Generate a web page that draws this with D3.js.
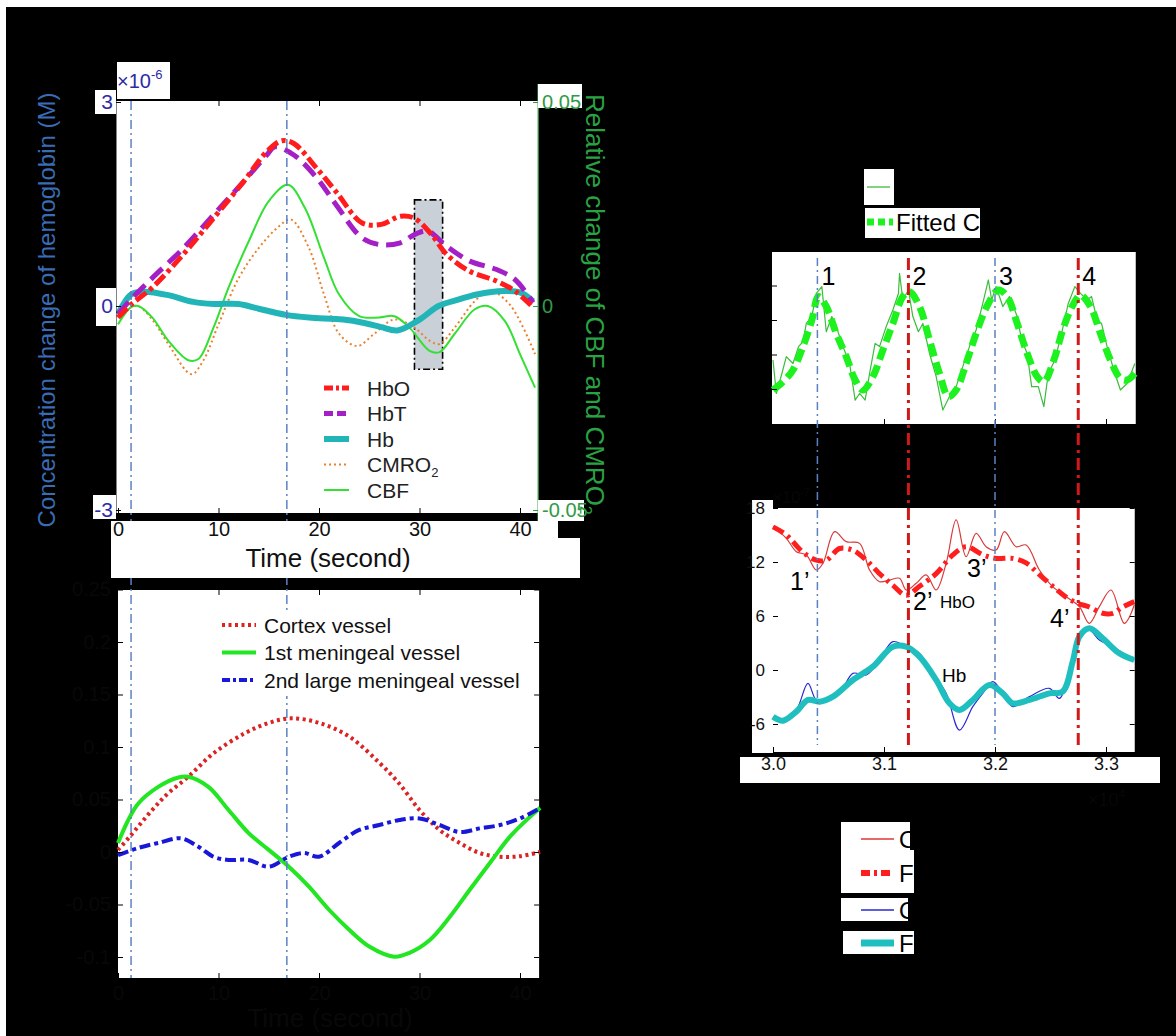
<!DOCTYPE html>
<html>
<head>
<meta charset="utf-8">
<script src="https://cdn.jsdelivr.net/npm/d3@7"></script>
<style>
  html, body { margin: 0; padding: 0; background: #000; }
  svg { display: block; }
</style>
</head>
<body>
<svg id="fig" width="1176" height="1036"></svg>
<script>
// ---------- Panel A: hemodynamic response (time in s) ----------
// hemoglobin, units of 1e-6 M
const hbo = [[0,-0.17],[1.3,0.02],[3.4,0.27],[6.5,0.76],[9.5,1.29],[12.5,1.83],[14.8,2.27],[16.3,2.43],[17.5,2.39],[19.8,2.02],[21.7,1.68],[24.3,1.22],[26.2,1.2],[28.1,1.32],[29.5,1.29],[31.2,1.05],[32.7,0.76],[35,0.51],[37.6,0.37],[39.5,0.22],[41.3,-0.02]];
const hbt = [[0,-0.12],[1.3,0.1],[3.4,0.41],[6.5,0.85],[9.5,1.34],[12.5,1.83],[14.8,2.22],[15.6,2.34],[17.5,2.22],[19.8,1.88],[21.7,1.49],[24.3,1.0],[26.2,0.9],[28.1,0.93],[29.5,1.05],[30.8,1.1],[32.7,0.88],[35,0.66],[37.6,0.54],[39.5,0.39],[41.3,0.05]];
const hb = [[0,-0.12],[1.3,0.17],[2.5,0.21],[5,0.16],[7.5,0.06],[9.5,0.03],[12,0.03],[14,-0.04],[16.7,-0.13],[19,-0.17],[22.4,-0.2],[24.5,-0.25],[26.2,-0.31],[27.8,-0.36],[30,-0.2],[31.9,0],[34,0.1],[35.7,0.17],[38.4,0.22],[40,0.2],[41.3,0.07]];
// relative change (fraction)
const cmro2 = [[0,-0.0028],[1.3,-0.0003],[2,0],[3.4,-0.0033],[5,-0.0093],[7.3,-0.0167],[8.5,-0.0133],[10,-0.0045],[12,0.0068],[14,0.0142],[16,0.0195],[17.2,0.0212],[19,0.0142],[20.5,0.0028],[22,-0.0068],[23.8,-0.0098],[25.5,-0.0068],[27.5,-0.0033],[29.5,-0.0053],[31,-0.0085],[32,-0.0093],[33.5,-0.0053],[35.5,0.0012],[37,0.0037],[39,0.0003],[41.5,-0.0118]];
const cbf = [[0,-0.0045],[1.3,-0.0003],[2,0],[3.4,-0.0028],[5,-0.0085],[7,-0.0133],[8,-0.013],[9.5,-0.0053],[11,0.0045],[13,0.0158],[15,0.0257],[16.9,0.0297],[18.6,0.024],[20.5,0.0118],[22,0.0028],[24,-0.0025],[26,-0.0028],[27.5,-0.0025],[29,-0.0053],[31,-0.011],[32,-0.0113],[33.5,-0.0068],[35.5,-0.0008],[36.8,0],[38.5,-0.0037],[40,-0.0118],[41.5,-0.02]];
const highlightSpan = [29.5, 32.3];
const highlightRange = [-0.93, 1.56];
const eventTimes = [1.3, 16.8];
const timeTicks = [0, 10, 20, 30, 40];
const hbTicks = [-3, 0, 3];
const relTicks = [-0.05, 0, 0.05];

// ---------- Panel B: vessel flow change ----------
const cortex = [[0,0.002],[1.2,0.015],[3.4,0.04],[5,0.056],[7,0.0717],[9.5,0.094],[12.6,0.113],[14.9,0.1226],[17.2,0.1273],[20,0.123],[23,0.11],[26,0.085],[28,0.065],[30,0.04],[32,0.021],[34,0.0086],[36,-0.001],[38,-0.0045],[40,-0.004],[42,0]];
const meningeal1 = [[0,0.0086],[1,0.03],[2,0.046],[4,0.062],[6,0.071],[7,0.0717],[9,0.062],[11,0.04],[13,0.018],[15,0.002],[17,-0.014],[19,-0.033],[21,-0.055],[23,-0.074],[25,-0.09],[27.5,-0.0997],[29,-0.096],[31,-0.084],[33,-0.062],[35,-0.036],[37,-0.0105],[39,0.0146],[41,0.0336],[42,0.042]];
const meningeal2 = [[0,-0.003],[2,0.0038],[4,0.0086],[6.3,0.013],[8,0.005],[9.5,-0.0045],[11,-0.0076],[13,-0.0076],[15,-0.014],[17,-0.0045],[18.5,-0.001],[20,-0.0045],[22,0.0086],[24,0.021],[26,0.0257],[28,0.0305],[30,0.032],[32,0.0257],[34,0.019],[36,0.0225],[38,0.0257],[40,0.032],[42,0.042]];
const flowTicks = [-0.1, -0.05, 0, 0.05, 0.1, 0.15, 0.2, 0.25];

// ---------- Panel C: CBF oscillation (sample index, x1e4) ----------
const cbfOriginal = [[3.000,0.84],[3.003,-0.13],[3.008,0.45],[3.012,0.94],[3.018,0.74],[3.023,1.23],[3.027,1.37],[3.030,1.90],[3.035,2.10],[3.039,2.77],[3.044,2.97],[3.048,1.66],[3.053,2.10],[3.057,1.81],[3.063,1.23],[3.069,0.74],[3.074,-0.32],[3.078,-0.13],[3.083,-0.32],[3.087,0.45],[3.092,1.32],[3.096,1.23],[3.102,1.81],[3.108,2.29],[3.113,2.77],[3.114,3.35],[3.117,2.58],[3.122,2.87],[3.126,2.10],[3.131,1.66],[3.135,1.90],[3.141,1.03],[3.147,0.36],[3.153,-0.61],[3.159,-0.22],[3.165,0.07],[3.171,0.65],[3.177,1.23],[3.183,1.71],[3.189,2.48],[3.194,3.16],[3.197,2.58],[3.201,2.97],[3.207,2.39],[3.213,2.68],[3.220,2.10],[3.224,1.42],[3.229,1.03],[3.233,0.07],[3.239,0.07],[3.244,-0.51],[3.248,0.45],[3.254,0.84],[3.260,1.61],[3.266,2.48],[3.272,2.97],[3.277,2.77],[3.283,2.58],[3.287,2.68],[3.292,2.00],[3.296,1.90],[3.301,1.23],[3.307,0.55],[3.313,-0.03],[3.319,0.16],[3.326,0.74]];
const cbfFitted = [[3.000,-0.03],[3.009,0.21],[3.018,0.55],[3.027,1.23],[3.035,2.0],[3.041,2.68],[3.048,2.39],[3.057,1.61],[3.066,0.94],[3.074,0.26],[3.081,-0.03],[3.090,0.36],[3.099,1.13],[3.108,1.90],[3.117,2.68],[3.123,2.82],[3.132,2.39],[3.141,1.42],[3.150,0.45],[3.158,-0.22],[3.165,-0.03],[3.174,0.74],[3.183,1.61],[3.194,2.48],[3.203,2.87],[3.211,2.68],[3.220,1.90],[3.229,1.03],[3.238,0.36],[3.244,0.21],[3.253,0.84],[3.262,1.81],[3.271,2.48],[3.277,2.72],[3.286,2.39],[3.295,1.61],[3.304,0.84],[3.313,0.31],[3.319,0.26],[3.326,0.45]];
const cbfTicks = [0, 1, 2, 3];
const peakMarks = [3.04, 3.122, 3.2, 3.275];
const peakKinds = ["peak", "trough", "peak", "trough"];
const peakLabels = ["1", "2", "3", "4"];

// ---------- Panel D: hemoglobin oscillation (x1e-7 M) ----------
const hboOriginal = [[3.000,15.93],[3.012,14.63],[3.021,13.15],[3.030,12.78],[3.039,11.11],[3.045,11.85],[3.0555,15.37],[3.066,14.26],[3.078,14.07],[3.087,11.11],[3.096,9.81],[3.105,10.0],[3.114,10.19],[3.120,8.89],[3.129,9.63],[3.138,10.56],[3.147,8.89],[3.156,11.85],[3.165,16.67],[3.174,12.59],[3.183,15.19],[3.192,13.7],[3.201,13.33],[3.2085,15.37],[3.219,13.7],[3.228,13.89],[3.240,11.11],[3.252,9.26],[3.264,8.15],[3.276,7.04],[3.285,5.19],[3.294,7.04],[3.3045,8.89],[3.3165,5.19],[3.3255,7.22]];
const hboFitted = [[3.000,15.9],[3.012,15.0],[3.027,13.1],[3.039,12.2],[3.048,12.2],[3.060,13.5],[3.072,13.3],[3.084,12.2],[3.096,10.7],[3.108,9.4],[3.120,8.3],[3.132,9.3],[3.147,10.7],[3.162,12.8],[3.174,13.7],[3.189,12.8],[3.201,12.4],[3.216,12.4],[3.228,11.9],[3.240,10.6],[3.252,9.3],[3.264,8.1],[3.2745,7.4],[3.285,7.0],[3.297,6.3],[3.306,6.3],[3.315,7.0],[3.3255,7.6]];
const hbOriginal = [[3.000,-5.19],[3.009,-5.56],[3.021,-4.44],[3.0315,-1.48],[3.039,-3.33],[3.048,-3.33],[3.060,-2.59],[3.072,-0.37],[3.084,-0.56],[3.096,1.11],[3.108,3.15],[3.120,2.59],[3.132,1.85],[3.144,-0.37],[3.156,-2.59],[3.168,-6.67],[3.180,-4.07],[3.189,-2.59],[3.198,-1.3],[3.207,-2.59],[3.216,-4.07],[3.231,-2.96],[3.249,-2.04],[3.258,-3.15],[3.267,-0.37],[3.276,4.07],[3.285,4.44],[3.294,3.33],[3.306,2.59],[3.3255,1.11]];
const hbFitted = [[3.000,-5.19],[3.009,-5.63],[3.021,-4.63],[3.0315,-3.33],[3.042,-3.52],[3.054,-2.96],[3.072,-1.11],[3.090,0.37],[3.108,2.59],[3.120,2.59],[3.132,1.48],[3.147,-1.11],[3.159,-3.7],[3.168,-4.44],[3.180,-3.33],[3.195,-1.67],[3.207,-2.59],[3.216,-3.7],[3.231,-3.33],[3.249,-2.59],[3.261,-2.41],[3.270,0.93],[3.276,3.7],[3.285,4.63],[3.297,3.52],[3.312,1.85],[3.3255,1.11]];
const sampleTicks = [3.0, 3.1, 3.2, 3.3];
const hemoTicks = [-6, 0, 6, 12, 18];

// ---------- drawing ----------
const FONT = '"Liberation Sans", Arial, Helvetica, sans-serif';
const W = 1176, H = 1036;
const svg = d3.select("#fig").attr("font-family", FONT);
const FAINT = "#080808";

svg.append("rect").attr("width", W).attr("height", H).attr("fill", "#000");
svg.append("rect").attr("width", W).attr("height", 7).attr("fill", "#fff");
svg.append("rect").attr("width", 6).attr("height", H).attr("fill", "#fff");

function box(x, y, w, h) {
  return svg.append("rect").attr("x", x).attr("y", y).attr("width", w).attr("height", h).attr("fill", "#fff");
}
function label(x, y, str, size, color, anchor) {
  return svg.append("text").attr("x", x).attr("y", y).attr("font-size", size)
    .attr("fill", color || "#000").attr("text-anchor", anchor || "start").text(str);
}
function styleAxis(g, size, color) {
  g.attr("font-family", FONT).attr("font-size", size);
  g.select(".domain").remove();
  g.selectAll(".tick line").attr("stroke", "#000").attr("stroke-width", 1);
  g.selectAll(".tick text").attr("fill", color);
  return g;
}
function curve(data, sx, sy, smooth) {
  return d3.line().x(d => sx(d[0])).y(d => sy(d[1]))
    .curve(smooth ? d3.curveCatmullRom.alpha(0.5) : d3.curveLinear)(data);
}
function path(d, stroke, width, dash) {
  const p = svg.append("path").attr("d", d).attr("fill", "none").attr("stroke", stroke)
    .attr("stroke-width", width).attr("stroke-linejoin", "round");
  if (dash) p.attr("stroke-dasharray", dash);
  return p;
}

// scales shared by panels A and B
const tx = d3.scaleLinear([0, 40], [118, 520]);
const yHb = d3.scaleLinear([-3, 3], [510, 102]);
const yRel = d3.scaleLinear([-0.05, 0.05], [510, 102]);
const yFlow = d3.scaleLinear([-0.1, 0.25], [957, 589.5]);
const aL = tx(-0.2), aR = tx(41.8), aT = 101, aB = 513;
const bL = tx(0), bR = tx(41.9), bT = 590, bB = 978;

// scales shared by panels C and D
const xs = d3.scaleLinear([3.0, 3.3], [773, 1106]);
const yC = d3.scaleLinear([0, 3], [389, 285.5]);
const yD = d3.scaleLinear([-6, 18], [724, 508]);
const cL = xs(2.9991), cR = xs(3.3268), cT = 252, cB = 424;
const dL = xs(3.0), dR = xs(3.3259), dT = 508, dB = 752;

// ===== Panel A =====
box(aL, aT, aR - aL, aB - aT);
svg.append("rect")
  .attr("x", tx(highlightSpan[0])).attr("y", yHb(highlightRange[1]))
  .attr("width", tx(highlightSpan[1]) - tx(highlightSpan[0]))
  .attr("height", yHb(highlightRange[0]) - yHb(highlightRange[1]))
  .attr("fill", "#c9d0d8").attr("stroke", "#000").attr("stroke-width", 1.6)
  .attr("stroke-dasharray", "7,3,2,3");

path(curve(cmro2, tx, yRel, true), "#e8822e", 2, "2,3");
path(curve(cbf, tx, yRel, true), "#33e033", 2);
path(curve(hb, tx, yHb, true), "#22b5b8", 6);
path(curve(hbt, tx, yHb, true), "#a51fc6", 5, "16,8");
path(curve(hbo, tx, yHb, true), "#ff1c1c", 5, "13,4,4,4");

// plot frame
svg.append("line").attr("x1", aL).attr("x2", aL).attr("y1", aT).attr("y2", aB).attr("stroke", "#000");
svg.append("line").attr("x1", aR).attr("x2", aR).attr("y1", 84).attr("y2", 521).attr("stroke", "#4cae5a").attr("stroke-width", 1.2);
styleAxis(svg.append("g").attr("transform", `translate(0,${aT})`)
  .call(d3.axisTop(tx).tickValues(timeTicks.slice(1)).tickSizeInner(-5).tickSizeOuter(0).tickFormat("")), 12, "#000");

// legend A
const legA = [
  {name: "HbO", color: "#ff1c1c", w: 5, dash: "9,3,3,3"},
  {name: "HbT", color: "#a51fc6", w: 5, dash: "9,4"},
  {name: "Hb", color: "#22b5b8", w: 6, dash: null},
  {name: "CMRO", sub: "2", color: "#e8822e", w: 2, dash: "2,3"},
  {name: "CBF", color: "#33e033", w: 2, dash: null}
];
const legAy = d3.scalePoint(legA.map(d => d.name), [388, 490]);
legA.forEach(d => {
  const y = legAy(d.name);
  const l = svg.append("line").attr("x1", 324).attr("x2", 349).attr("y1", y).attr("y2", y)
    .attr("stroke", d.color).attr("stroke-width", d.w);
  if (d.dash) l.attr("stroke-dasharray", d.dash);
  const t = label(367, y, d.name, 21, "#222").attr("dy", "0.36em");
  if (d.sub) t.append("tspan").attr("font-size", 13).attr("dy", "0.35em").text(d.sub);
});

// ===== Panel B =====
box(bL, bT, bR - bL, bB - bT);
path(curve(cortex, tx, yFlow, true), "#dd2222", 4, "3,3.5");
path(curve(meningeal1, tx, yFlow, true), "#22e622", 4);
path(curve(meningeal2, tx, yFlow, true), "#1818d8", 4, "11,4,4,4");

styleAxis(svg.append("g").attr("transform", `translate(${bL},0)`)
  .call(d3.axisLeft(yFlow).tickValues(flowTicks).tickSizeInner(-5).tickSizeOuter(0).tickPadding(7)
  .tickFormat(d => String(d))), 20, FAINT);
styleAxis(svg.append("g").attr("transform", `translate(${bR},0)`)
  .call(d3.axisRight(yFlow).tickValues(flowTicks).tickSizeInner(-5).tickSizeOuter(0).tickFormat("")), 12, "#000");
styleAxis(svg.append("g").attr("transform", `translate(0,${bT})`)
  .call(d3.axisTop(tx).tickValues(timeTicks.slice(1)).tickSizeInner(-5).tickSizeOuter(0).tickFormat("")), 12, "#000");
styleAxis(svg.append("g").attr("transform", `translate(0,${bB})`)
  .call(d3.axisBottom(tx).tickValues(timeTicks).tickSizeInner(-5).tickSizeOuter(0).tickPadding(8)), 20, FAINT);
label(330, 1027, "Time (second)", 26, FAINT, "middle");

// event markers across A and B
eventTimes.forEach(t => {
  svg.append("line").attr("x1", tx(t)).attr("x2", tx(t)).attr("y1", aT).attr("y2", bB)
    .attr("stroke", "#5b82c4").attr("stroke-width", 1.5).attr("stroke-dasharray", "9,4,2,4");
});

// legend B (on a white pad)
box(215, 610, 312, 86);
const legB = [
  {name: "Cortex vessel", color: "#dd2222", w: 4, dash: "3,3.5"},
  {name: "1st meningeal vessel", color: "#22e622", w: 4, dash: null},
  {name: "2nd large meningeal vessel", color: "#1818d8", w: 4, dash: "8,3,3,3"}
];
const legBy = d3.scalePoint(legB.map(d => d.name), [625, 680]);
legB.forEach(d => {
  const y = legBy(d.name);
  const l = svg.append("line").attr("x1", 222).attr("x2", 256).attr("y1", y).attr("y2", y)
    .attr("stroke", d.color).attr("stroke-width", d.w);
  if (d.dash) l.attr("stroke-dasharray", d.dash);
  label(264, y, d.name, 21, "#111").attr("dy", "0.36em");
});

// ===== Panel A labels (white pads) =====
box(117, 62, 53, 37);
const mult = label(117, 88, "\u00d710", 20, "#2b2ba5");
mult.append("tspan").attr("font-size", 13).attr("dy", -9).text("-6");
box(95, 90, 21, 24);
box(96, 288, 20, 38);
box(93, 495, 23, 24);
box(538, 84, 44, 24);
box(538, 500, 46, 21);
svg.append("path").attr("fill", "#fff")
  .attr("d", "M111,521 H558 V538 H580 V578 H111 Z");

styleAxis(svg.append("g").attr("transform", `translate(${aL},0)`)
  .call(d3.axisLeft(yHb).tickValues(hbTicks).tickSizeInner(-5).tickSizeOuter(0).tickPadding(3)
  .tickFormat(d => String(d))), 21, "#2b2ba5");
const rAx = styleAxis(svg.append("g").attr("transform", `translate(${aR},0)`)
  .call(d3.axisRight(yRel).tickValues(relTicks).tickSizeInner(-5).tickSizeOuter(0).tickPadding(4)
  .tickFormat(d => d === 0 ? "0" : d.toFixed(2))), 20, "#2f9a44");
rAx.selectAll(".tick line").attr("stroke", "#2f9a44");
styleAxis(svg.append("g").attr("transform", `translate(0,${aB})`)
  .call(d3.axisBottom(tx).tickValues(timeTicks).tickSizeInner(-5).tickSizeOuter(0).tickPadding(9)), 20, "#111");
label(328, 567, "Time (second)", 26, "#111", "middle");

svg.append("text").attr("transform", "translate(47,310) rotate(-90)")
  .attr("text-anchor", "middle").attr("dy", "0.35em").attr("font-size", 24).attr("fill", "#3a6cb4")
  .text("Concentration change of hemoglobin (M)");
const rt = svg.append("text").attr("transform", "translate(595,94) rotate(90)")
  .attr("dy", "0.35em").attr("font-size", 26).attr("fill", "#2aa244")
  .text("Relative change of CBF and CMRO");
rt.append("tspan").attr("font-size", 16).attr("dy", "0.4em").text("2");

// ===== Panel C =====
box(cL, cT, cR - cL, cB - cT);
path(curve(cbfOriginal, xs, yC, false), "#3cbc3c", 1.2);
path(curve(cbfFitted, xs, yC, true), "#1ef21e", 7, "13,6");
styleAxis(svg.append("g").attr("transform", `translate(${cL},0)`)
  .call(d3.axisLeft(yC).tickValues(cbfTicks).tickSizeInner(-5).tickSizeOuter(0).tickFormat("")), 12, "#000");
styleAxis(svg.append("g").attr("transform", `translate(0,${cB})`)
  .call(d3.axisBottom(xs).tickValues(sampleTicks.slice(1)).tickSizeInner(-5).tickSizeOuter(0).tickFormat("")), 12, "#000");

// legend C
box(864, 169, 30, 36);
box(865, 208, 115, 30);
svg.append("line").attr("x1", 867).attr("x2", 890).attr("y1", 187).attr("y2", 187)
  .attr("stroke", "#3cbc3c").attr("stroke-width", 1.3);
label(896, 187, "Original CBF", 24, "#000").attr("dy", "0.36em");
svg.append("line").attr("x1", 867).attr("x2", 893).attr("y1", 222).attr("y2", 222)
  .attr("stroke", "#1ef21e").attr("stroke-width", 7).attr("stroke-dasharray", "7,4");
label(896, 222, "Fitted CBF", 24, "#000").attr("dy", "0.36em");

// ===== Panel D =====
box(752, 500, 21, 253);
box(dL, dT, dR - dL, dB - dT);
box(740, 757, 420, 26);
path(curve(hboOriginal, xs, yD, true), "#d83a3a", 1.2);
path(curve(hbOriginal, xs, yD, true), "#2a2ad2", 1.2);
path(curve(hboFitted, xs, yD, true), "#ff1e1e", 5, "12,5,3,5");
path(curve(hbFitted, xs, yD, true), "#1fbfbf", 6);

styleAxis(svg.append("g").attr("transform", `translate(${dL},0)`)
  .call(d3.axisLeft(yD).tickValues(hemoTicks).tickSizeInner(-5).tickSizeOuter(0).tickPadding(8)
  .tickFormat(d => String(d))), 17, "#111");
styleAxis(svg.append("g").attr("transform", `translate(${dR},0)`)
  .call(d3.axisRight(yD).tickValues(hemoTicks).tickSizeInner(-5).tickSizeOuter(0).tickFormat("")), 12, "#000");
styleAxis(svg.append("g").attr("transform", `translate(0,${dB})`)
  .call(d3.axisBottom(xs).tickValues(sampleTicks).tickSizeInner(-5).tickSizeOuter(0).tickPadding(5)
  .tickFormat(d3.format(".1f"))), 18, "#111");
const dm = label(773, 503, "\u00d710", 16, "#070707");
dm.append("tspan").attr("font-size", 11).attr("dy", -7).text("-7");
const xm = label(1088, 806, "\u00d710", 18, "#070707");
xm.append("tspan").attr("font-size", 12).attr("dy", -8).text("4");

// peak / trough markers across C and D
peakMarks.forEach((m, i) => {
  const red = peakKinds[i] === "trough";
  svg.append("line").attr("x1", xs(m)).attr("x2", xs(m)).attr("y1", 258).attr("y2", 745)
    .attr("stroke", red ? "#d01a1a" : "#5a82c2").attr("stroke-width", red ? 3 : 1.5)
    .attr("stroke-dasharray", red ? "12,5,3,5" : "8,4,2,4");
  label(xs(m) + 4, 285, peakLabels[i], 25, "#000");
});

// annotations in D
label(790, 590, "1\u2019", 25, "#000");
label(913, 610, "2\u2019", 25, "#000");
label(940, 608, "HbO", 17, "#000");
label(967, 577, "3\u2019", 25, "#000");
label(1050, 627, "4\u2019", 25, "#000");
label(942, 682, "Hb", 19, "#000");

// ===== Legend E =====
svg.append("path").attr("fill", "#fff").attr("d", "M841,822 H910 V850 H914 V893 H841 Z");
box(841, 898, 67, 23);
box(843, 931, 71, 23);
const legE = [
  {name: "Original HbO", y: 839, color: "#e03434", w: 1.5, dash: null},
  {name: "Fitted HbO", y: 873, color: "#ff1e1e", w: 6, dash: "9,4,3,4"},
  {name: "Original Hb", y: 910, color: "#2a2ad2", w: 1.5, dash: null},
  {name: "Fitted Hb", y: 943, color: "#1fbfbf", w: 7, dash: null}
];
legE.forEach(d => {
  const l = svg.append("line").attr("x1", 861).attr("x2", 894).attr("y1", d.y).attr("y2", d.y)
    .attr("stroke", d.color).attr("stroke-width", d.w);
  if (d.dash) l.attr("stroke-dasharray", d.dash);
  label(899, d.y, d.name, 24, "#000").attr("dy", "0.36em");
});
</script>
</body>
</html>
